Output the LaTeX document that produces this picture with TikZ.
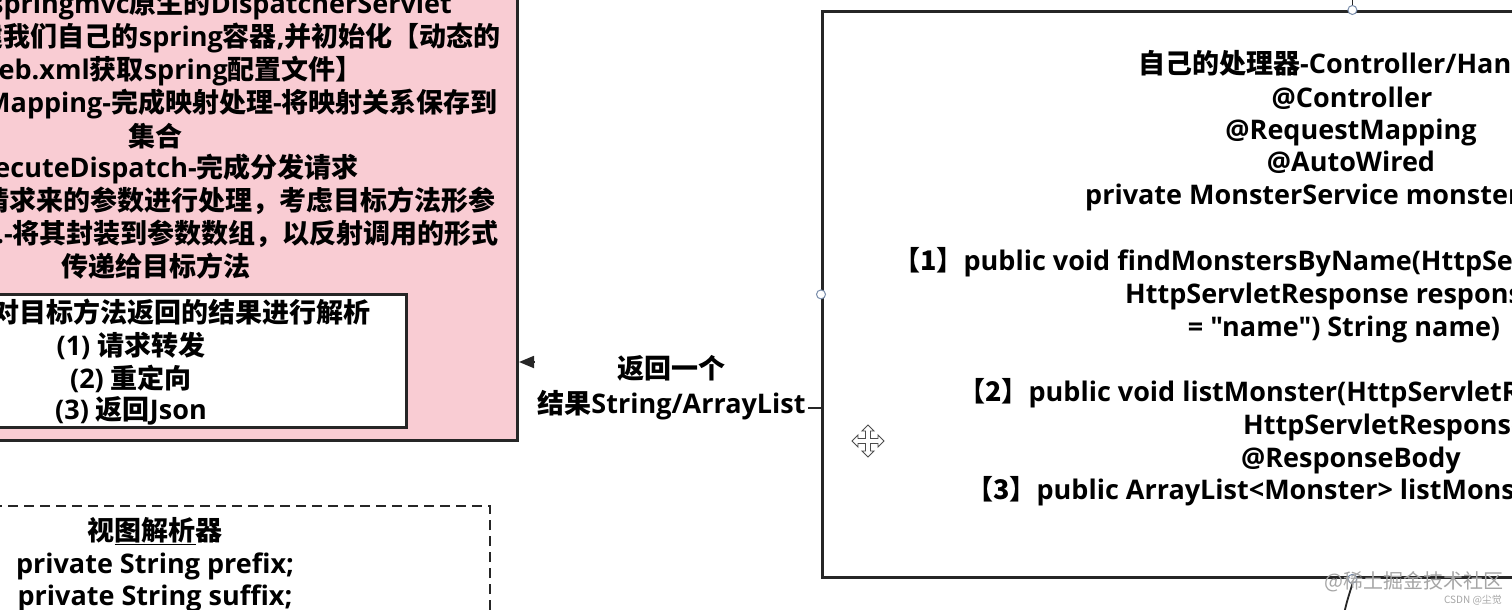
\documentclass[tikz,border=0pt]{standalone}
\usepackage{fontspec}
\setmainfont{Open Sans}[Ligatures=TeXOff]
\newfontfamily\cjk{Noto Sans CJK SC}
\usetikzlibrary{arrows.meta}
\newcommand\cj[1]{{\cjk\bfseries #1}}
\definecolor{pinkfill}{RGB}{249,204,211}
\definecolor{handleblue}{RGB}{120,140,170}
\tikzset{
  txt/.style={inner sep=0pt, font=\fontsize{27}{32}\selectfont\bfseries},
  box/.style={draw=black!85, line width=2.8pt, inner sep=0pt},
  handle/.style={circle, draw=handleblue, fill=white, minimum size=9pt, inner sep=0pt, line width=1pt},
  conn/.style={draw=black!85, line width=1.8pt},
  wm/.style={text=black!35, inner sep=0pt},
}
\begin{document}
\begin{tikzpicture}[x=1pt,y=-1pt]
\useasboundingbox (0,0) rectangle (1512,610);
\clip (0,0) rectangle (1512,610);
\fill[white] (0,0) rectangle (1512,610);

% ---- pink box (DispatcherServlet) ----
\node[box, fill=pinkfill, minimum width=600pt, minimum height=500pt, anchor=south east] (pink) at (519,442) {};
\node[txt, anchor=base east] (p1) at (452,14) {springmvc\cj{原生的}DispatcherServlet};
\node[txt, anchor=base east] (p2) at (501,47) {\cj{建我们自己的}spring\cj{容器},\cj{并初始化【动态的}};
\node[txt, anchor=base east] (p3) at (363,80) {eb.xml\cj{获取}spring\cj{配置文件】}};
\node[txt, anchor=base east] (p4) at (498,112) {Mapping-\cj{完成映射处理}-\cj{将映射关系保存到}};
\node[txt, anchor=base] (p5) at (155,146) {\cj{集合}};
\node[txt, anchor=base east] (p6) at (359,177) {ecuteDispatch-\cj{完成分发请求}};
\node[txt, anchor=base east] (p7) at (496,210) {\cj{请求来的参数进行处理，考虑目标方法形参}};
\node[txt, anchor=base east] (p8) at (499,243) {.-\cj{将其封装到参数数组，以反射调用的形式}};
\node[txt, anchor=base] (p9) at (156,276) {\cj{传递给目标方法}};

% ---- result box ----
\node[box, fill=white, minimum width=500pt, minimum height=133pt, anchor=north east] (res) at (408,293) {};
\node[txt, anchor=base east] (r1) at (371,322) {\cj{对目标方法返回的结果进行解析}};
\node[txt, anchor=base] (r2) at (131,355) {(1) \cj{请求转发}};
\node[txt, anchor=base] (r3) at (131,388) {(2) \cj{重定向}};
\node[txt, anchor=base] (r4) at (131,419) {(3) \cj{返回}Json};

% ---- view resolver (dashed) ----
\node[draw=black!85, line width=2.2pt, dash pattern=on 10pt off 6pt, minimum width=560pt, minimum height=200pt, anchor=north east, inner sep=0pt] (view) at (491,505) {};
\node[txt, anchor=base] (v1) at (155,540) {\cj{视\underline{图解析}器}};
\node[txt, anchor=base] (v2) at (155,573) {private String prefix;};
\node[txt, anchor=base] (v3) at (155,605) {private String suffix;};

% ---- controller box ----
\node[box, minimum width=1060pt, minimum height=566pt, anchor=north west] (ctrl) at (821,10) {};
\node[txt, anchor=base west] (c1) at (1138,74) {\cj{自己的处理器}-Controller/Handler};
\node[txt, anchor=base] (c2) at (1352,107) {@Controller};
\node[txt, anchor=base] (c3) at (1351,139) {@RequestMapping};
\node[txt, anchor=base] (c4) at (1351,171) {@AutoWired};
\node[txt, anchor=base west] (c5) at (1085,204) {private MonsterService monsterService;};
\node[txt, anchor=base west] (c6) at (893,270) {\cj{【1】}public void findMonstersByName(HttpServletRequest request,};
\node[txt, anchor=base west] (c7) at (1125,303) {HttpServletResponse response,};
\node[txt, anchor=base] (c8) at (1344,336) {= "name") String name)};
\node[txt, anchor=base west] (c9) at (958,401) {\cj{【2】}public void listMonster(HttpServletRequest request,};
\node[txt, anchor=base west] (c10) at (1243,434) {HttpServletResponse response)};
\node[txt, anchor=base] (c11) at (1351,467) {@ResponseBody};
\node[txt, anchor=base west] (c12) at (966,499) {\cj{【3】}public ArrayList<Monster> listMonster()};

% ---- connector with label ----
\coordinate (ya) at (0,408);
\coordinate (yb) at (0,362);
\draw[conn, -{Triangle[length=15pt,width=12pt]}] (ctrl.west |- ya) -- (671,408) |- (pink.east |- yb);
\node[txt, fill=white, inner sep=2pt, align=center, font=\fontsize{27}{35}\selectfont\bfseries] (lbl) at (671.5,388) {\cj{返回一个}\\\cj{结果}String/ArrayList};

% ---- selection handles and attached connectors ----
\node[handle] (h1) at (ctrl.north) {};
\node[handle] (h2) at (ctrl.west) {};
\node[handle] (h3) at (ctrl.south) {};
\draw[conn] (h1.north) -- ++(0,-10);
\draw[conn] (h3.south) .. controls (1350,592) and (1347,600) .. (1344,614);

% ---- move cursor ----
\draw[black!70, fill=white, line width=0.9pt, shift={(868,441)}]
  (0,-16) -- (6,-10) -- (2.5,-10) -- (2.5,-2.5) -- (10,-2.5) -- (10,-6) -- (16,0) -- (10,6) -- (10,2.5) -- (2.5,2.5) -- (2.5,10) -- (6,10) -- (0,16) -- (-6,10) -- (-2.5,10) -- (-2.5,2.5) -- (-10,2.5) -- (-10,6) -- (-16,0) -- (-10,-6) -- (-10,-2.5) -- (-2.5,-2.5) -- (-2.5,-10) -- (-6,-10) -- cycle;

% ---- watermark ----
\node[wm, font=\cjk\fontsize{20}{20}\selectfont] (wm1) at (1414,582) {@稀土掘金技术社区};
\node[wm, font=\cjk\fontsize{10}{10}\selectfont] (wm2) at (1473,600) {CSDN @尘觉};
\end{tikzpicture}
\end{document}
